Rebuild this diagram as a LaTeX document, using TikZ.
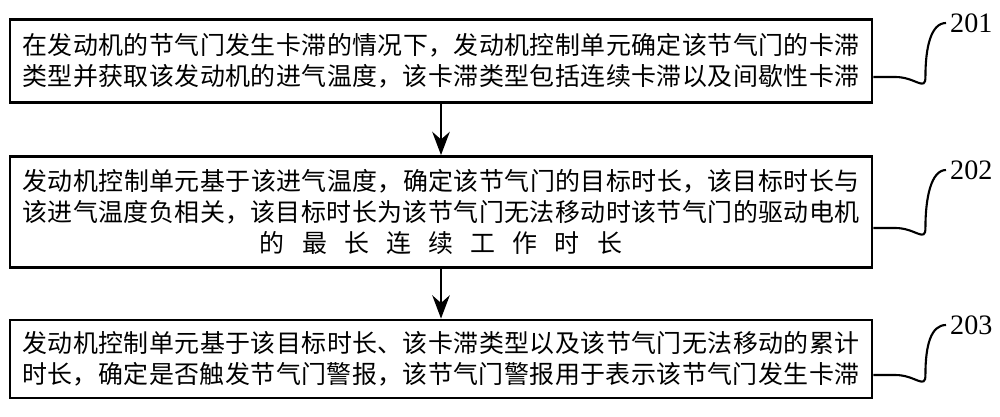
\documentclass[tikz,border=0pt]{standalone}
\usepackage{fontspec}
\setmainfont{Liberation Serif}
\newfontfamily\cjk{Noto Sans CJK SC}
\XeTeXlinebreaklocale "zh"
\XeTeXlinebreakskip=0pt plus 1pt
\usetikzlibrary{positioning,arrows.meta}
\tikzset{
  stepbox/.style={draw, line width=0.8pt, minimum width=8.62cm, text width=8.5cm, align=center, inner sep=0pt,
    font=\cjk\fontsize{7.1}{8.8}\selectfont},
  leader/.style={line width=0.6pt},
  numlabel/.style={font=\fontsize{8}{9}\selectfont, inner sep=1pt, anchor=west}
}
\begin{document}
\begin{tikzpicture}[>=Stealth]
	\useasboundingbox (0,0) rectangle (10,-4.16);
	% Steps
	\node[stepbox, minimum height=0.83cm] (s201) at (4.41,-0.61) {在发动机的节气门发生卡滞的情况下，发动机控制单元确定该节气门的卡滞类型并获取该发动机的进气温度，该卡滞类型包括连续卡滞以及间歇性卡滞};
	\node[stepbox, minimum height=1.11cm] (s202) at (4.41,-2.12) {发动机控制单元基于该进气温度，确定该节气门的目标时长，该目标时长与\\该进气温度负相关，该目标时长为该节气门无法移动时该节气门的驱动电机\\的最长连续工作时长};
	\node[stepbox, minimum height=0.78cm] (s203) at (4.41,-3.59) {发动机控制单元基于该目标时长、该卡滞类型以及该节气门无法移动的累计时长，确定是否触发节气门警报，该节气门警报用于表示该节气门发生卡滞};

	% Labels
	\node[numlabel] (l201) at (9.46,-0.23) {201};
	\node[numlabel] (l202) at (9.46,-1.70) {202};
	\node[numlabel] (l203) at (9.46,-3.25) {203};

	% Leaders
	\foreach \n in {201,202,203}
		\draw[leader] ([yshift=-0.16cm]s\n.east) -- ++(0.22,0) .. controls +(0.2,0) and +(0,-0.15) .. ++(0.3,0) coordinate (c\n);
	\foreach \n in {201,202,203}
		\draw[leader] (c\n) .. controls +(0,0.3) and +(-0.15,0) .. (l\n.west);

	% Arrows
	\draw[->, line width=0.8pt] (s201) -- (s202);
	\draw[->, line width=0.8pt] (s202) -- (s203);
\end{tikzpicture}
\end{document}
